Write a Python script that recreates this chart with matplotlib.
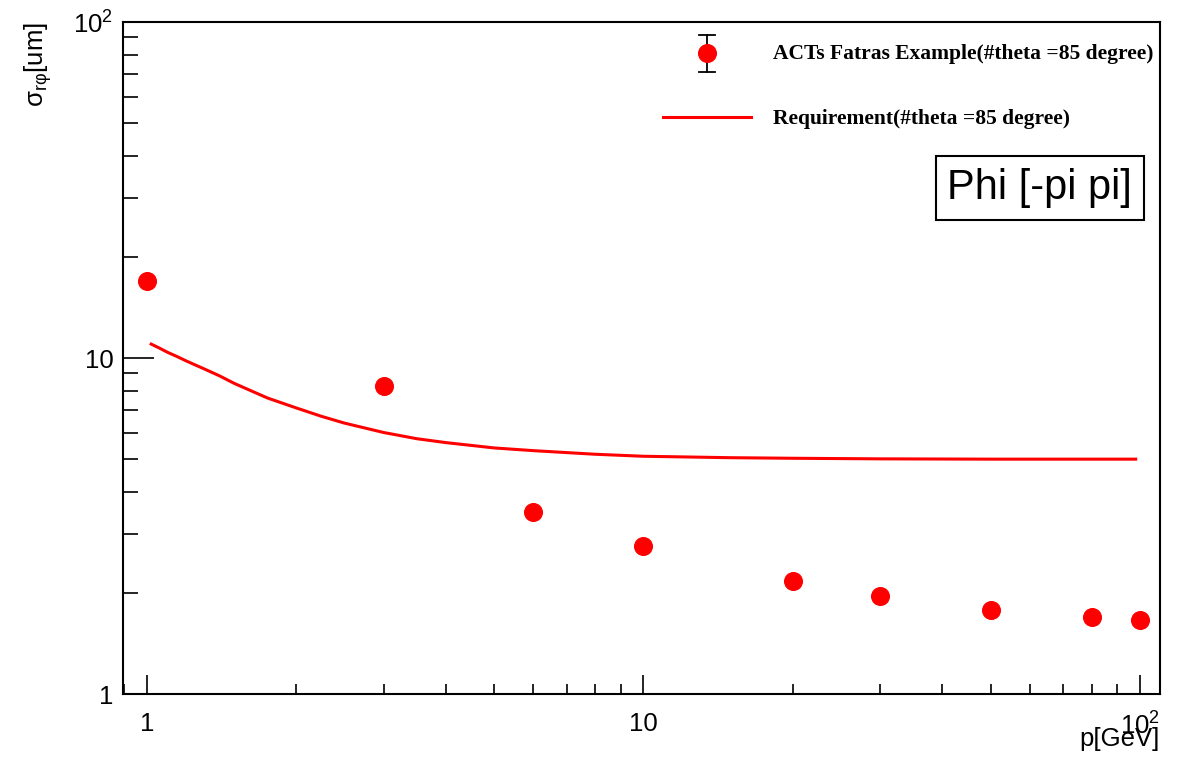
import numpy as np
import matplotlib
matplotlib.use("Agg")
import matplotlib.pyplot as plt
from matplotlib.ticker import FixedLocator, FixedFormatter, LogLocator, NullFormatter

plt.rcParams['font.family'] = ['Liberation Sans', 'DejaVu Sans']
plt.rcParams['mathtext.fontset'] = 'custom'
plt.rcParams['mathtext.rm'] = 'Liberation Sans'
plt.rcParams['mathtext.it'] = 'Liberation Sans:italic'
plt.rcParams['mathtext.bf'] = 'Liberation Sans:bold'

# measured resolution (points)
p_meas = [1, 3, 6, 10, 20, 30, 50, 80, 100]
sigma_meas = [16.9, 8.26, 3.48, 2.76, 2.17, 1.96, 1.78, 1.70, 1.66]

# requirement curve
p_req = [1.02, 1.06, 1.1, 1.15, 1.2, 1.3, 1.4, 1.5, 1.75, 2, 2.25, 2.5, 3, 3.5, 4, 5, 6, 8, 10,
         15, 20, 30, 50, 70, 98]
sigma_req = [11.0, 10.7, 10.4, 10.1, 9.8, 9.3, 8.85, 8.4, 7.6, 7.1, 6.7, 6.4, 6.0, 5.75, 5.6,
             5.4, 5.3, 5.17, 5.1, 5.05, 5.03, 5.01, 5.0, 5.0, 5.0]

label_meas = "ACTs Fatras Example(#theta =85 degree)"
label_req = "Requirement(#theta =85 degree)"
box_text = "Phi [-pi pi]"

fig = plt.figure(figsize=(11.89, 7.57), dpi=100)
ax = fig.add_axes([123 / 1189, 63 / 757, 1037 / 1189, 672 / 757])

ax.plot(p_meas, sigma_meas, 'o', color='red', markersize=12.7, zorder=3)
ax.plot(p_req, sigma_req, '-', color='red', linewidth=2.2, zorder=2)

ax.set_xscale('log')
ax.set_yscale('log')
ax.set_xlim(0.895, 109.7)
ax.set_ylim(1, 100)

ax.xaxis.set_major_locator(FixedLocator([1, 10, 100]))
ax.xaxis.set_major_formatter(FixedFormatter(['1', '10', r'$10^{2}$']))
ax.xaxis.set_minor_locator(LogLocator(base=10, subs=np.arange(2, 10)))
ax.xaxis.set_minor_formatter(NullFormatter())
ax.yaxis.set_major_locator(FixedLocator([1, 10, 100]))
ax.yaxis.set_major_formatter(FixedFormatter(['1', '10', r'$10^{2}$']))
ax.yaxis.set_minor_locator(LogLocator(base=10, subs=np.arange(2, 10)))
ax.yaxis.set_minor_formatter(NullFormatter())

ax.tick_params(which='both', direction='in', top=False, right=False, labelsize=18.5)
ax.tick_params(axis='x', which='major', length=14, width=1.2, pad=13)
ax.tick_params(axis='x', which='minor', length=7, width=1.2)
ax.tick_params(axis='y', which='major', length=22, width=1.2, pad=7)
ax.tick_params(axis='y', which='minor', length=11, width=1.2)
for s in ax.spines.values():
    s.set_linewidth(1.5)

ax.set_xlabel('p[GeV]', fontsize=18.5, loc='right', labelpad=-9)
ax.set_ylabel('$\\mathrm{σ_{rφ}}$[um]', fontsize=18.5, loc='top', labelpad=14)

# legend drawn by hand, ROOT style
tr = ax.transAxes
ax.plot([0.563, 0.563], [0.926, 0.981], color='black', linewidth=1.3, transform=tr, clip_on=False)
ax.plot([0.555, 0.571], [0.981, 0.981], color='black', linewidth=1.3, transform=tr, clip_on=False)
ax.plot([0.555, 0.571], [0.926, 0.926], color='black', linewidth=1.3, transform=tr, clip_on=False)
ax.plot([0.563], [0.954], 'o', color='red', markersize=12.7, transform=tr, clip_on=False, zorder=4)
ax.text(0.627, 0.952, label_meas, transform=tr, fontsize=15.5, fontweight='bold',
        family='Liberation Serif', va='center', ha='left')
ax.plot([0.521, 0.606], [0.8586, 0.8586], color='red', linewidth=2.2, transform=tr)
ax.text(0.627, 0.8557, label_req, transform=tr, fontsize=15.5, fontweight='bold',
        family='Liberation Serif', va='center', ha='left')

ax.text(0.884, 0.753, box_text, transform=tr, fontsize=30, ha='center', va='center',
        bbox=dict(boxstyle='square,pad=0.28', facecolor='white', edgecolor='black', linewidth=1.5))

fig.savefig('out.png', dpi=100)
